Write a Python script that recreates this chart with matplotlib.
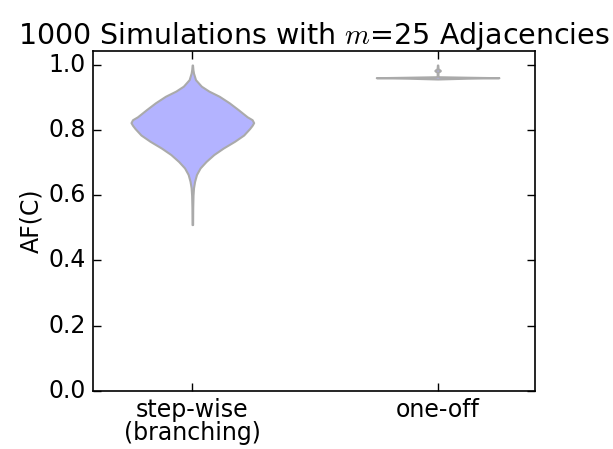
import numpy as np
import matplotlib
matplotlib.use("Agg")
import matplotlib.pyplot as plt

plt.style.use("classic")

# violin outlines: value on the y axis, relative half-width
step_coords = [0.510, 0.560, 0.600, 0.623, 0.643, 0.664, 0.684, 0.704, 0.725,
               0.745, 0.766, 0.785, 0.805, 0.815, 0.823, 0.832, 0.841, 0.863,
               0.884, 0.904, 0.920, 0.935, 0.955, 0.975, 0.986, 1.000]
step_vals = [0.3, 0.4, 0.7, 1.2, 2.3, 4.2, 7.8, 13.8, 21.5,
             31.0, 42.5, 51.5, 57.5, 60.0, 61.5, 60.0, 55.0, 46.0,
             37.0, 27.0, 16.5, 9.0, 3.2, 1.2, 0.6, 0.2]

oneoff_coords = [0.957, 0.9595, 0.961, 0.9625, 0.964, 0.967, 0.975, 0.979,
                 0.981, 0.983, 0.985, 0.987, 0.992, 1.000]
oneoff_vals = [0.0, 30.0, 62.0, 30.0, 1.2, 0.4, 0.4, 0.8,
               2.2, 2.8, 2.2, 0.8, 0.4, 0.2]

labels = ["step-wise\n(branching)", "one-off"]
positions = [1, 2]
yticks = [0.0, 0.2, 0.4, 0.6, 0.8, 1.0]

stats = []
for c, v in [(step_coords, step_vals), (oneoff_coords, oneoff_vals)]:
    c = np.array(c)
    v = np.array(v)
    stats.append({
        "coords": c,
        "vals": v,
        "mean": c[np.argmax(v)],
        "median": c[np.argmax(v)],
        "min": c.min(),
        "max": c.max(),
    })

fig = plt.figure(figsize=(6.13, 4.49), dpi=100, facecolor="white")
ax = fig.add_axes([0.1517, 0.1298, 0.7210, 0.7577])

parts = ax.violin(stats, positions=positions, widths=0.5,
                  showmeans=False, showextrema=False, showmedians=False)
for body in parts["bodies"]:
    body.set_alpha(1)
    body.set_facecolor("#b3b3ff")
    body.set_edgecolor("#aaaaaa")
    body.set_linewidth(1.5)

ax.set_xlim(0.595, 2.397)
ax.set_ylim(0, 1.0445)
ax.set_xticks(positions)
ax.set_xticklabels(labels, fontsize=17, linespacing=0.95)
ax.set_yticks(yticks)
ax.set_yticklabels([f"{t:.1f}" for t in yticks], fontsize=17)
ax.tick_params(length=6, width=1, pad=5)
ax.tick_params(axis="x", pad=5)
for s in ax.spines.values():
    s.set_linewidth(1.2)
ax.set_ylabel("AF(C)", fontsize=17, labelpad=4)
ax.set_title("1000 Simulations with $m$=25 Adjacencies", fontsize=20.5)

fig.savefig("out.png", dpi=100, facecolor="white")
